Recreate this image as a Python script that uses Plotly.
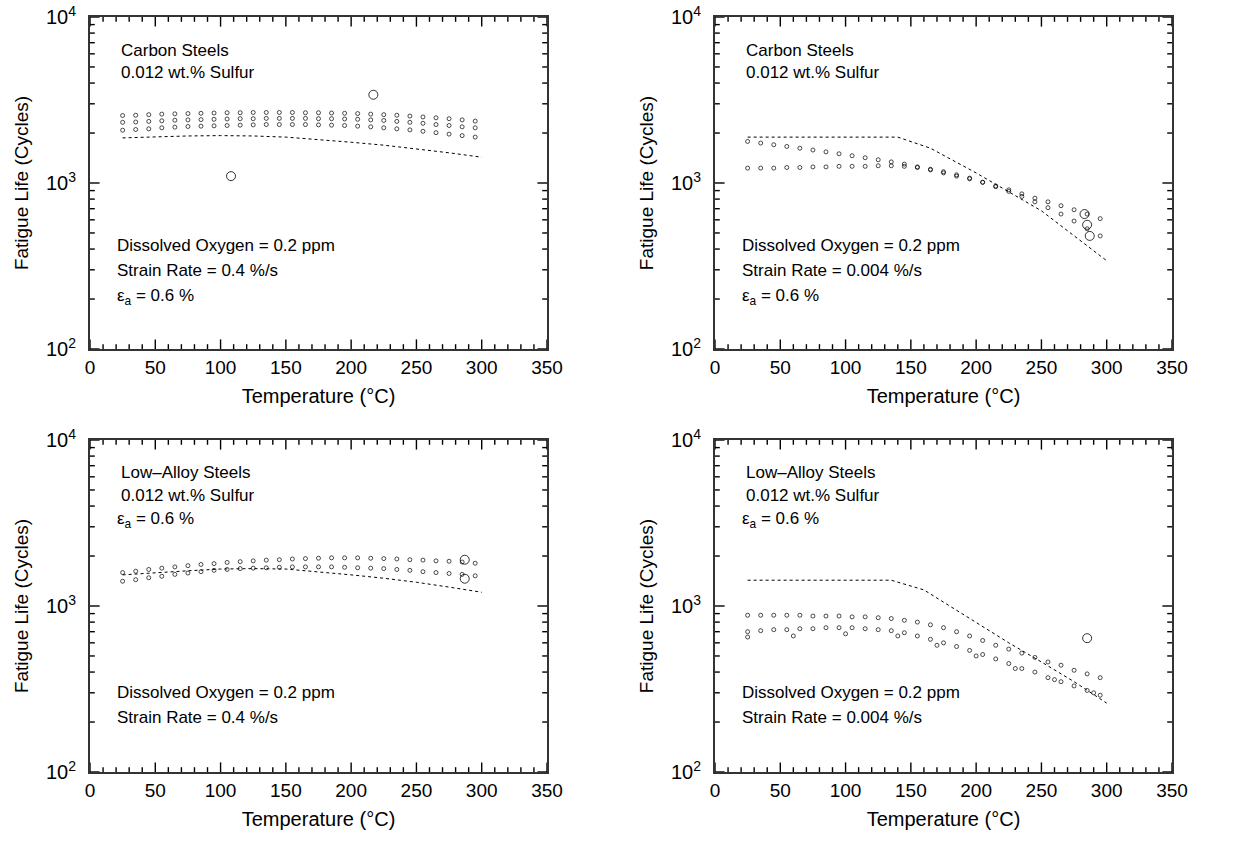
import plotly.graph_objects as go

# ---------------- data ----------------
band_T = [25, 35, 45, 55, 65, 75, 85, 95, 105, 115, 125, 135, 145, 155,
          165, 175, 185, 195, 205, 215, 225, 235, 245, 255, 265, 275, 285, 295]

# Top-left: carbon steel, 0.4 %/s
tl_model_T = [25, 50, 75, 100, 125, 150, 175, 200, 225, 250, 275, 300]
tl_model = [1870, 1900, 1920, 1930, 1920, 1890, 1830, 1760, 1690, 1610, 1520, 1430]
tl_band_a = [2550, 2560, 2580, 2600, 2610, 2620, 2630, 2640, 2650, 2650, 2660, 2660, 2660, 2660,
             2650, 2650, 2640, 2630, 2620, 2600, 2580, 2560, 2530, 2500, 2470, 2440, 2400, 2360]
tl_band_b = [2320, 2330, 2350, 2370, 2390, 2400, 2410, 2420, 2430, 2440, 2440, 2450, 2450, 2450,
             2450, 2440, 2440, 2430, 2420, 2400, 2380, 2350, 2320, 2290, 2250, 2220, 2180, 2150]
tl_band_c = [2080, 2100, 2120, 2150, 2170, 2190, 2200, 2210, 2220, 2230, 2240, 2250, 2250, 2250,
             2250, 2240, 2230, 2220, 2200, 2180, 2150, 2120, 2090, 2050, 2010, 1970, 1930, 1890]
tl_out_T = [108, 217]
tl_out = [1100, 3400]

# Top-right: carbon steel, 0.004 %/s
tr_model_T = [25, 50, 75, 100, 125, 140, 165, 200, 250, 300]
tr_model = [1890, 1890, 1890, 1890, 1890, 1890, 1620, 1150, 680, 340]
tr_band_a = [1780, 1740, 1700, 1660, 1620, 1580, 1540, 1500, 1460, 1420, 1380, 1340, 1300, 1250,
             1200, 1150, 1100, 1060, 1010, 960, 910, 860, 810, 770, 730, 690, 650, 610]
tr_band_b = [1230, 1230, 1230, 1240, 1240, 1250, 1250, 1260, 1260, 1260, 1270, 1270, 1260, 1240,
             1210, 1170, 1120, 1070, 1010, 950, 890, 830, 770, 710, 650, 590, 530, 480]
tr_out_T = [283, 285, 287]
tr_out = [650, 560, 480]

# Bottom-left: low-alloy steel, 0.4 %/s
bl_model_T = [25, 50, 75, 100, 125, 150, 175, 200, 225, 250, 275, 300]
bl_model = [1540, 1590, 1630, 1670, 1680, 1670, 1610, 1540, 1470, 1390, 1300, 1210]
bl_band_a = [1590, 1620, 1660, 1690, 1720, 1750, 1780, 1800, 1830, 1850, 1870, 1890, 1900, 1920,
             1930, 1940, 1950, 1950, 1950, 1940, 1930, 1920, 1900, 1890, 1870, 1860, 1840, 1810]
bl_band_b = [1410, 1440, 1480, 1510, 1550, 1580, 1610, 1640, 1660, 1680, 1690, 1700, 1710, 1720,
             1720, 1720, 1720, 1710, 1700, 1690, 1680, 1660, 1640, 1610, 1590, 1570, 1550, 1520]
bl_out_T = [287, 287]
bl_out = [1900, 1460]

# Bottom-right: low-alloy steel, 0.004 %/s
br_model_T = [25, 50, 75, 100, 125, 135, 160, 180, 200, 225, 250, 275, 300]
br_model = [1430, 1430, 1430, 1430, 1430, 1430, 1250, 1000, 800, 600, 460, 350, 260]
br_band_a = [880, 880, 880, 880, 880, 870, 870, 870, 860, 860, 850, 840, 820, 800,
             770, 740, 700, 660, 620, 580, 550, 520, 490, 460, 440, 410, 390, 370]
br_band_b = [700, 710, 720, 720, 730, 730, 740, 740, 740, 730, 720, 710, 690, 660,
             630, 600, 570, 540, 510, 480, 450, 420, 400, 370, 350, 330, 310, 290]
br_sparse_T = [25, 60, 100, 140, 170, 200, 230, 260, 290]
br_sparse = [650, 660, 680, 660, 580, 500, 420, 360, 300]
br_out_T = [285]
br_out = [640]

# tick values
x_major = [0, 50, 100, 150, 200, 250, 300, 350]
x_minor = [10, 20, 30, 40, 60, 70, 80, 90, 110, 120, 130, 140, 160, 170, 180, 190,
           210, 220, 230, 240, 260, 270, 280, 290, 310, 320, 330, 340]
y_ticks = [100, 1000, 10000]
y_ticktext = ["10<sup>2</sup>", "10<sup>3</sup>", "10<sup>4</sup>"]
y_minor = [200, 300, 400, 500, 600, 700, 800, 900,
           2000, 3000, 4000, 5000, 6000, 7000, 8000, 9000]

# ---------------- figure ----------------
W, H = 1240, 851
FONT = "Arial"
X_RANGE = [0, 350]
Y_RANGE = [2, 4]           # log10 units
PW, PH = 457, 332          # plot-area size in pixels
MAJ, MIN = 8, 4            # inside tick lengths in pixels
fig = go.Figure()

def fx(px):
    return px / W

def fy(py):
    return 1 - py / H

panels = [
    ("x", "y", [fx(90), fx(547)], [fy(349), fy(17)]),
    ("x2", "y2", [fx(715), fx(1172)], [fy(349), fy(17)]),
    ("x3", "y3", [fx(90), fx(547)], [fy(772), fy(440)]),
    ("x4", "y4", [fx(715), fx(1172)], [fy(772), fy(440)]),
]

data = [
    (tl_model_T, tl_model, [tl_band_a, tl_band_b, tl_band_c], [], [], tl_out_T, tl_out),
    (tr_model_T, tr_model, [tr_band_a, tr_band_b], [], [], tr_out_T, tr_out),
    (bl_model_T, bl_model, [bl_band_a, bl_band_b], [], [], bl_out_T, bl_out),
    (br_model_T, br_model, [br_band_a, br_band_b], br_sparse_T, br_sparse, br_out_T, br_out),
]

small = dict(symbol="circle-open", size=4, color="black", line=dict(width=0.7, color="black"))
big = dict(symbol="circle-open", size=9, color="black", line=dict(width=0.8, color="black"))

# inside tick marks on all four sides, drawn as short line-markers whose
# centres sit half a tick-length inside the frame (positions via the axis scales)
x_per_px = (X_RANGE[1] - X_RANGE[0]) / PW
dec_per_px = (Y_RANGE[1] - Y_RANGE[0]) / PH
tick_sets = []
for vals, ln in [(x_major, MAJ), (x_minor, MIN)]:
    xs = list(vals) + list(vals)
    ys = ([10 ** (Y_RANGE[0] + ln / 2 * dec_per_px)] * len(vals)
          + [10 ** (Y_RANGE[1] - ln / 2 * dec_per_px)] * len(vals))
    tick_sets.append((xs, ys, "line-ns", ln))
for vals, ln in [(y_ticks, MAJ), (y_minor, MIN)]:
    xs = ([X_RANGE[0] + ln / 2 * x_per_px] * len(vals)
          + [X_RANGE[1] - ln / 2 * x_per_px] * len(vals))
    ys = list(vals) + list(vals)
    tick_sets.append((xs, ys, "line-ew", ln))

for (xa, ya, xd, yd), (mT, mv, bands, sT, sv, oT, ov) in zip(panels, data):
    for xs, ys, sym, ln in tick_sets:
        fig.add_trace(go.Scatter(
            x=xs, y=ys, mode="markers",
            marker=dict(symbol=sym, size=ln, color="black",
                        line=dict(width=1.4, color="black")),
            xaxis=xa, yaxis=ya, showlegend=False, hoverinfo="skip", cliponaxis=False))
    for b in bands:
        fig.add_trace(go.Scatter(x=band_T, y=b, mode="markers", marker=small,
                                 xaxis=xa, yaxis=ya, showlegend=False))
    if sT:
        fig.add_trace(go.Scatter(x=sT, y=sv, mode="markers", marker=small,
                                 xaxis=xa, yaxis=ya, showlegend=False))
    fig.add_trace(go.Scatter(x=mT, y=mv, mode="lines",
                             line=dict(color="black", width=1, dash="dot"),
                             xaxis=xa, yaxis=ya, showlegend=False))
    fig.add_trace(go.Scatter(x=oT, y=ov, mode="markers", marker=big,
                             xaxis=xa, yaxis=ya, showlegend=False))

layout = dict(
    width=W, height=H, margin=dict(l=0, r=0, t=0, b=0, autoexpand=False),
    paper_bgcolor="white", plot_bgcolor="white",
    font=dict(family=FONT, size=17, color="black"),
    showlegend=False,
)

for i, (xa, ya, xd, yd) in enumerate(panels):
    n = "" if i == 0 else str(i + 1)
    layout["xaxis" + n] = dict(
        domain=xd, anchor=ya, range=X_RANGE, tickmode="array", tickvals=x_major,
        ticks="", showline=True, linecolor="#333", linewidth=2, mirror=True,
        showgrid=False, zeroline=False, automargin=False,
        title=dict(text="Temperature (°C)", standoff=12, font=dict(size=20)),
        tickfont=dict(size=19),
    )
    layout["yaxis" + n] = dict(
        domain=yd, anchor=xa, type="log", range=Y_RANGE,
        tickmode="array", tickvals=y_ticks, ticktext=y_ticktext,
        ticks="", showline=True, linecolor="#333", linewidth=2, mirror=True,
        showgrid=False, zeroline=False, automargin=False,
        ticklabeloverflow="allow", ticklabelstandoff=8,
        title=dict(text="Fatigue Life (Cycles)", standoff=12, font=dict(size=19)),
        tickfont=dict(size=20),
    )

fig.update_layout(**layout)

def note(px, py, text):
    fig.add_annotation(x=fx(px), y=fy(py), xref="paper", yref="paper",
                       text=text, showarrow=False, xanchor="left", yanchor="middle",
                       font=dict(family=FONT, size=17, color="black"))

eps = "ε<sub>a</sub> = 0.6 %"
for dx, rate in [(0, "0.4 %/s"), (625, "0.004 %/s")]:
    note(119 + dx, 50, "Carbon Steels")
    note(119 + dx, 72, "0.012 wt.% Sulfur")
    note(115 + dx, 245, "Dissolved Oxygen = 0.2 ppm")
    note(115 + dx, 270, "Strain Rate = " + rate)
    note(115 + dx, 297, eps)
    note(119 + dx, 472, "Low\u2013Alloy Steels")
    note(119 + dx, 495, "0.012 wt.% Sulfur")
    note(115 + dx, 520, eps)
    note(115 + dx, 692, "Dissolved Oxygen = 0.2 ppm")
    note(115 + dx, 717, "Strain Rate = " + rate)

# remove the browser's default 8 px body margin so the figure fills the window
fig.write_html("out.html",
               config={"displayModeBar": False},
               post_script="document.body.style.margin='0px';"
                           "document.body.style.overflow='hidden';")
